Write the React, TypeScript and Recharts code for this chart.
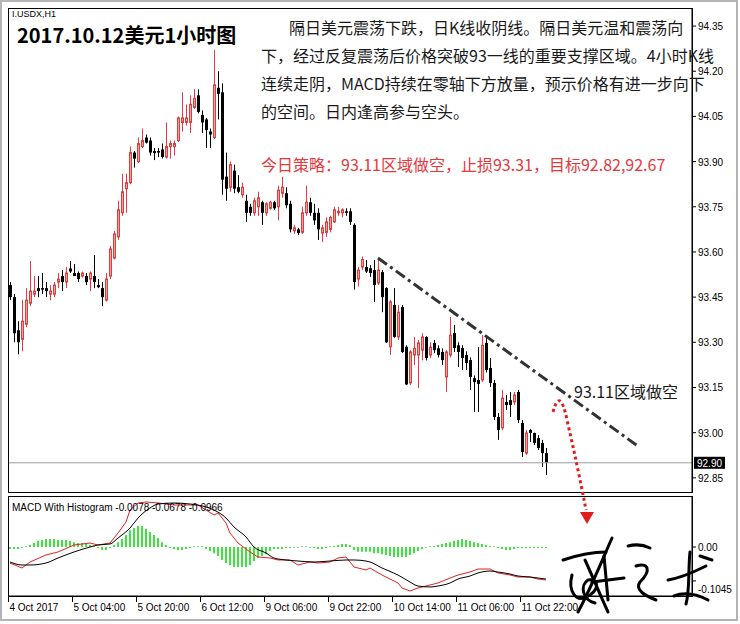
import React from 'react';
import { ComposedChart, Bar, Line, XAxis, YAxis, ReferenceLine } from 'recharts';

// ---- price data (H1 candles, I.USDX) ----
const opens = [93.49,93.45,93.34,93.31,93.36,93.43,93.46,93.48,93.48,93.48,93.46,93.46,93.50,93.52,93.50,93.545,93.53,93.53,93.52,93.52,93.51,93.52,93.49,93.48,93.44,93.52,93.58,93.65,93.73,93.81,93.83,93.93,93.90,93.95,93.98,93.97,93.935,93.935,93.94,93.915,93.95,93.95,93.97,94.03,94.03,94.03,94.08,94.12,94.055,94.04,94.00,93.98,94.145,94.13,93.85,93.815,93.87,93.815,93.79,93.77,93.75,93.73,93.75,93.765,93.73,93.745,93.765,93.75,93.795,93.795,93.76,93.67,93.675,93.665,93.73,93.765,93.73,93.73,93.663,93.665,93.675,93.70,93.73,93.73,93.735,93.735,93.69,93.51,93.55,93.55,93.546,93.54,93.497,93.533,93.48,93.285,93.424,93.318,93.417,93.285,93.165,93.258,93.258,93.274,93.318,93.258,93.298,93.28,93.268,93.185,93.258,93.331,93.29,93.281,93.258,93.241,93.181,93.175,93.175,93.298,93.215,93.165,93.052,93.016,93.102,93.108,93.102,93.135,93.032,92.932,93.009,92.999,92.982,92.966,92.932];
const highs = [93.50,93.46,93.37,93.44,93.48,93.57,93.52,93.52,93.53,93.50,93.49,93.50,93.53,93.54,93.55,93.57,93.56,93.535,93.535,93.53,93.535,93.59,93.51,93.50,93.53,93.62,93.67,93.77,93.86,93.86,93.95,93.935,93.98,94.01,93.99,93.98,93.945,93.945,93.96,94.03,93.97,93.97,94.05,94.13,94.09,94.12,94.14,94.14,94.07,94.045,94.01,94.27,94.20,94.16,93.93,93.90,93.89,93.855,93.83,93.79,93.76,93.78,93.80,93.77,93.765,93.77,93.77,93.82,93.85,93.815,93.77,93.69,93.68,93.75,93.82,93.78,93.76,93.745,93.69,93.715,93.72,93.75,93.75,93.745,93.745,93.745,93.695,93.55,93.585,93.573,93.556,93.573,93.573,93.54,93.483,93.44,93.48,93.424,93.424,93.29,93.274,93.318,93.308,93.33,93.32,93.30,93.308,93.29,93.28,93.274,93.384,93.358,93.30,93.29,93.27,93.25,93.19,93.284,93.324,93.318,93.248,93.175,93.065,93.142,93.125,93.135,93.135,93.142,93.042,93.009,93.012,93.00,92.992,92.976,92.949];
const lows = [93.44,93.30,93.26,93.27,93.35,93.42,93.45,93.45,93.46,93.45,93.44,93.45,93.48,93.47,93.48,93.53,93.52,93.50,93.515,93.49,93.47,93.48,93.48,93.42,93.435,93.51,93.575,93.64,93.72,93.73,93.825,93.88,93.895,93.945,93.96,93.92,93.905,93.915,93.91,93.91,93.91,93.92,93.965,94.00,94.02,93.995,94.075,94.06,93.995,93.945,93.945,93.975,94.04,93.79,93.77,93.80,93.795,93.795,93.78,93.70,93.72,93.72,93.72,93.69,93.72,93.74,93.74,93.705,93.78,93.745,93.665,93.66,93.656,93.66,93.72,93.72,93.69,93.64,93.633,93.65,93.665,93.696,93.72,93.715,93.72,93.69,93.475,93.485,93.54,93.53,93.517,93.434,93.49,93.40,93.298,93.258,93.315,93.308,93.264,93.158,93.158,93.225,93.148,93.24,93.24,93.248,93.264,93.25,93.225,93.135,93.25,93.268,93.218,93.208,93.208,93.142,93.069,93.069,93.168,93.20,93.152,93.042,92.976,93.009,93.075,93.052,93.092,93.032,92.919,92.926,92.969,92.959,92.942,92.886,92.859];
const closes = [93.45,93.33,93.30,93.37,93.44,93.47,93.47,93.47,93.475,93.47,93.47,93.49,93.51,93.50,93.53,93.535,93.52,93.51,93.53,93.50,93.53,93.50,93.483,93.45,93.51,93.61,93.66,93.74,93.80,93.83,93.93,93.91,93.96,93.97,93.963,93.93,93.928,93.93,93.915,93.95,93.96,93.96,94.045,94.045,94.045,94.09,94.11,94.065,94.03,94.005,93.99,94.155,94.125,93.84,93.81,93.89,93.81,93.80,93.815,93.73,93.73,93.77,93.78,93.73,93.76,93.765,93.745,93.805,93.815,93.755,93.675,93.68,93.663,93.73,93.765,93.73,93.705,93.675,93.68,93.70,93.715,93.74,93.735,93.74,93.73,93.70,93.50,93.54,93.575,93.535,93.53,93.49,93.54,93.45,93.30,93.434,93.318,93.40,93.268,93.16,93.268,93.28,93.298,93.318,93.248,93.284,93.274,93.258,93.241,93.268,93.324,93.281,93.268,93.248,93.231,93.185,93.168,93.162,93.29,93.208,93.165,93.052,93.009,93.115,93.092,93.092,93.125,93.042,92.936,92.999,92.999,92.966,92.949,92.932,92.90];

// ---- MACD panel ----
const histogram = [-0.006,-0.006,-0.006,-0.002,0.002,0.006,0.012,0.019,0.022,0.025,0.025,0.025,0.022,0.022,0.022,0.019,0.015,0.012,0.012,0.009,0.006,0.003,-0.003,-0.009,-0.009,-0.003,0.006,0.015,0.025,0.037,0.052,0.059,0.065,0.065,0.056,0.046,0.037,0.028,0.015,0.006,-0.003,-0.006,-0.009,-0.009,-0.006,-0.003,0.002,0.002,0.002,-0.006,-0.012,-0.019,-0.028,-0.040,-0.049,-0.056,-0.062,-0.062,-0.062,-0.062,-0.056,-0.043,-0.034,-0.028,-0.022,-0.012,-0.006,-0.006,-0.006,-0.003,-0.003,-0.002,-0.002,0.002,0.002,-0.002,-0.003,-0.006,-0.006,-0.003,0.002,0.003,0.006,0.009,0.009,0.006,-0.009,-0.015,-0.015,-0.015,-0.015,-0.019,-0.019,-0.022,-0.025,-0.028,-0.031,-0.031,-0.031,-0.031,-0.025,-0.019,-0.012,-0.006,-0.002,0.002,0.003,0.006,0.009,0.012,0.015,0.019,0.022,0.025,0.022,0.019,0.015,0.012,0.009,0.006,0.003,0.002,-0.003,-0.006,-0.009,-0.009,-0.006,-0.003,-0.003,-0.003,-0.003,-0.003,-0.003,-0.003,-0.003];
const macdIdx = [0,3,5,9,12,16,20,22,25,27,29,30,32,34,37,41,45,47,49,51,52,54,55,57,60,62,65,67,70,72,75,77,80,82,84,86,89,90,93,97,98,100,102,105,107,110,112,115,117,120,122,125,127,130,132,134];
const macdVals = [-0.0494,-0.0648,-0.0463,-0.0247,-0.0154,0.0062,0.0123,0.0062,0.0123,0.0432,0.0772,0.1142,0.1358,0.1389,0.1358,0.1296,0.1296,0.1296,0.1142,0.0988,0.1049,0.0741,0.0432,0.0123,-0.0154,-0.0309,-0.0339,-0.0401,-0.0401,-0.0555,-0.0463,-0.0494,-0.0463,-0.0339,-0.0309,-0.0617,-0.0710,-0.0648,-0.0864,-0.1111,-0.1265,-0.1358,-0.1265,-0.1173,-0.1111,-0.0957,-0.0864,-0.0772,-0.0679,-0.0679,-0.0802,-0.0864,-0.0926,-0.0926,-0.0988,-0.1018];
const signalIdx = [0,3,5,9,12,16,20,22,25,27,30,32,35,37,41,45,49,51,54,56,59,61,64,66,69,72,76,80,84,86,89,90,93,97,100,102,105,107,110,112,115,117,120,122,125,127,130,132,134];
const signalVals = [-0.0463,-0.0555,-0.0555,-0.0494,-0.0339,-0.0154,0,0.0062,0.0093,0.0278,0.0586,0.0895,0.1204,0.1327,0.1358,0.1327,0.1235,0.1142,0.0895,0.0617,0.0309,0,-0.0185,-0.0339,-0.0401,-0.0432,-0.0463,-0.0432,-0.0401,-0.0401,-0.0432,-0.0463,-0.0648,-0.0864,-0.1080,-0.1204,-0.1234,-0.1204,-0.1111,-0.0988,-0.0895,-0.0802,-0.0741,-0.0772,-0.0833,-0.0895,-0.0926,-0.0957,-0.0988];

// ---- axes / annotations ----
const priceTicks = [92.85,93.00,93.15,93.30,93.45,93.60,93.75,93.90,94.05,94.20,94.35];
const macdTicks = [0.1358, 0, -0.1045];
const timeTickIdx = [0,16,32,48,64,80,96,112,128];
const timeTickLabels = ['4 Oct 2017','5 Oct 04:00','5 Oct 20:00','6 Oct 12:00','9 Oct 06:00','9 Oct 22:00','10 Oct 14:00','11 Oct 06:00','11 Oct 22:00'];
const lastPrice = 92.90;
const trendStart = { idx: 92, price: 93.58 };
const trendEnd = { idx: 157, price: 92.955 };
const SLOTS = 171;

const textLines = [
  '隔日美元震荡下跌，日K线收阴线。隔日美元温和震荡向',
  '下，经过反复震荡后价格突破93一线的重要支撑区域。4小时K线',
  '连续走阴，MACD持续在零轴下方放量，预示价格有进一步向下',
  '的空间。日内逢高参与空头。',
];
const strategyText = '今日策略：93.11区域做空，止损93.31，目标92.82,92.67';
const entryText = '93.11区域做空';
const titleText = '2017.10.12美元1小时图';
const symbolText = 'I.USDX,H1';
const macdLabel = 'MACD With Histogram -0.0078 -0.0678 -0.0966';

const rows = Array.from({ length: SLOTS }, (_, i) => {
  const r: any = { idx: i };
  if (i < opens.length) {
    r.range = [lows[i], highs[i]];
    r.open = opens[i];
    r.close = closes[i];
    r.hist = histogram[i];
  }
  const m = macdIdx.indexOf(i);
  if (m >= 0) r.macd = macdVals[m];
  const s = signalIdx.indexOf(i);
  if (s >= 0) r.signal = signalVals[s];
  return r;
});

const AX = 'Liberation Sans, Arial, sans-serif';
const CJK = 'Noto Sans CJK SC, sans-serif';

const Candle = (props: any) => {
  const { x, y, width, height, payload } = props;
  if (!payload || !payload.range) return null;
  const [lo, hi] = payload.range;
  const top = Math.min(y, y + height);
  const h = Math.abs(height);
  const k = hi > lo ? h / (hi - lo) : 0;
  const yOf = (v: number) => top + (hi - v) * k;
  const cx = Math.floor(x + width / 2) + 0.5;
  const bull = payload.close >= payload.open;
  const color = bull ? '#e23b3b' : '#000000';
  const yo = yOf(payload.open);
  const yc = yOf(payload.close);
  const bt = Math.min(yo, yc);
  const bb = Math.max(yo, yc);
  return (
    <g>
      <line x1={cx} x2={cx} y1={top} y2={top + h} stroke={color} strokeWidth={1} />
      {bull ? (
        <rect x={cx - 1} y={bt} width={2} height={Math.max(bb - bt, 1)} fill="#f3a0a0" stroke={color} strokeWidth={1} />
      ) : (
        <rect x={cx - 1.5} y={bt} width={3} height={Math.max(bb - bt, 1)} fill="#000" />
      )}
    </g>
  );
};

const PriceTick = (props: any) => {
  const { x, y, payload } = props;
  return (
    <text x={x} y={y} dy={4} fontSize={10} fontFamily={AX} fill="#000" textAnchor="start">
      {Number(payload.value).toFixed(2)}
    </text>
  );
};

const MacdTick = (props: any) => {
  const { x, y, payload } = props;
  const v = Number(payload.value);
  const label = v === 0 ? '0.00' : v.toFixed(4);
  const dy = v < 0 ? 12 : 4;
  return (
    <text x={x} y={y} dy={dy} fontSize={10} fontFamily={AX} fill="#000" textAnchor="start">
      {label}
    </text>
  );
};

const TimeTick = (props: any) => {
  const { x, y, payload } = props;
  const k = timeTickIdx.indexOf(Number(payload.value));
  if (k < 0) return null;
  const tx = Math.round(x - 2) + 0.5;
  return (
    <g>
      <line x1={tx} x2={tx} y1={y - 1} y2={y + 4} stroke="#000" strokeWidth={1} />
      <text x={tx + 1} y={y + 13} fontSize={10} fontFamily={AX} fill="#000" textAnchor="start">
        {timeTickLabels[k]}
      </text>
    </g>
  );
};

const PriceTag = (props: any) => {
  const vb = props.viewBox || {};
  const x0 = (vb.x || 0) + (vb.width || 0) + 2;
  const y0 = vb.y || 0;
  return (
    <g>
      <rect x={x0} y={y0 - 6} width={31} height={12} fill="#000" />
      <text x={x0 + 3} y={y0 + 4} fontSize={10} fontFamily={AX} fill="#fff">
        {lastPrice.toFixed(2)}
      </text>
    </g>
  );
};

export default function App() {
  return (
    <div style={{ position: 'absolute', left: 0, top: 0, width: 740, height: 624, background: '#fff', overflow: 'hidden' }}>
      <div style={{ position: 'absolute', left: 0, top: 0 }}>
        <ComposedChart width={740} height={495} data={rows} margin={{ top: 8, right: 1, left: 8, bottom: 3 }}>
          <XAxis dataKey="idx" hide />
          <YAxis
            orientation="right"
            width={47}
            domain={[92.803, 94.41]}
            ticks={priceTicks}
            tick={<PriceTick />}
            tickSize={4}
            tickLine={{ stroke: '#000' }}
            axisLine={{ stroke: '#000' }}
            allowDataOverflow
          />
          <ReferenceLine y={lastPrice} stroke="#9c9c9c" strokeWidth={1} label={<PriceTag />} />
          <Bar dataKey="range" barSize={3} shape={(p: any) => <Candle {...p} />} isAnimationActive={false} />
          <ReferenceLine
            segment={[{ x: trendStart.idx, y: trendStart.price }, { x: trendEnd.idx, y: trendEnd.price }]}
            stroke="#333"
            strokeWidth={3}
            strokeDasharray="11 4 3 4"
            ifOverflow="visible"
          />
        </ComposedChart>
      </div>
      <div style={{ position: 'absolute', left: 0, top: 495 }}>
        <ComposedChart width={740} height={129} data={rows} margin={{ top: 1, right: 1, left: 8, bottom: 0 }}>
          <XAxis dataKey="idx" height={28} interval={0} tick={<TimeTick />} tickLine={false} tickSize={0} axisLine={{ stroke: '#000' }} />
          <YAxis
            orientation="right"
            width={47}
            domain={[-0.1512, 0.1574]}
            ticks={macdTicks}
            tick={<MacdTick />}
            tickSize={4}
            tickLine={{ stroke: '#000' }}
            axisLine={{ stroke: '#000' }}
            allowDataOverflow
          />
          <Bar dataKey="hist" fill="#3de43d" barSize={2} isAnimationActive={false} />
          <Line dataKey="macd" type="linear" stroke="#e42020" strokeWidth={1} dot={false} connectNulls isAnimationActive={false} />
          <Line dataKey="signal" type="monotone" stroke="#000" strokeWidth={1} dot={false} connectNulls isAnimationActive={false} />
        </ComposedChart>
      </div>
      <svg width={740} height={624} style={{ position: 'absolute', left: 0, top: 0, pointerEvents: 'none' }}>
        <rect x={1} y={1} width={736} height={619} fill="none" stroke="#b4b4b4" strokeWidth={2} />
        <rect x={8.5} y={8.5} width={684} height={484} fill="none" stroke="#000" strokeWidth={1} />
        <rect x={8.5} y={496.5} width={684} height={100} fill="none" stroke="#000" strokeWidth={1} />
        <text x={12} y={17} fontSize={9} fontFamily={AX} fill="#000">{symbolText}</text>
        <text x={17} y={43} fontSize={20} fontWeight={700} fontFamily={CJK} fill="#000">{titleText}</text>
        {textLines.map((t, i) => (
          <text key={i} x={i === 0 ? 289 : 261} y={34 + i * 28} fontSize={16} fontFamily={CJK} fill="#1a1a1a">{t}</text>
        ))}
        <text x={261} y={171} fontSize={16} fontFamily={CJK} fill="#e5383b">{strategyText}</text>
        <text x={574} y={398} fontSize={16} fontFamily={CJK} fill="#1a1a1a">{entryText}</text>
        <text x={12} y={511} fontSize={10} fontFamily={AX} fill="#000">{macdLabel}</text>
        <path d="M553,412 Q560,386 567,420 Q578,468 586,510" fill="none" stroke="#e21b1b" strokeWidth={3} strokeDasharray="3 3" />
        <polygon points="580,512 594,512 587,524" fill="#e21b1b" />
        <g fill="none" stroke="#000" strokeWidth={3} strokeLinecap="round" strokeLinejoin="round">
          <path d="M563,560 C575,556 590,552 606,552" />
          <path d="M612,538 C600,565 590,590 578,612" />
          <path d="M585,560 C592,575 600,595 608,612" />
          <path d="M572,575 C568,590 575,605 590,595 C600,588 598,578 588,580 C580,585 582,600 595,603" />
          <path d="M592,582 L624,578" />
          <path d="M604,556 L608,600" />
          <path d="M628,546 C636,544 644,545 650,548" />
          <path d="M636,566 C648,562 652,570 640,582 C634,590 646,596 656,600" />
          <path d="M668,580 C680,578 694,572 706,566" />
          <path d="M690,552 C688,570 690,590 686,604" />
          <path d="M674,596 C684,592 696,594 708,600" />
          <path d="M700,556 L712,560" />
        </g>
      </svg>
    </div>
  );
}
